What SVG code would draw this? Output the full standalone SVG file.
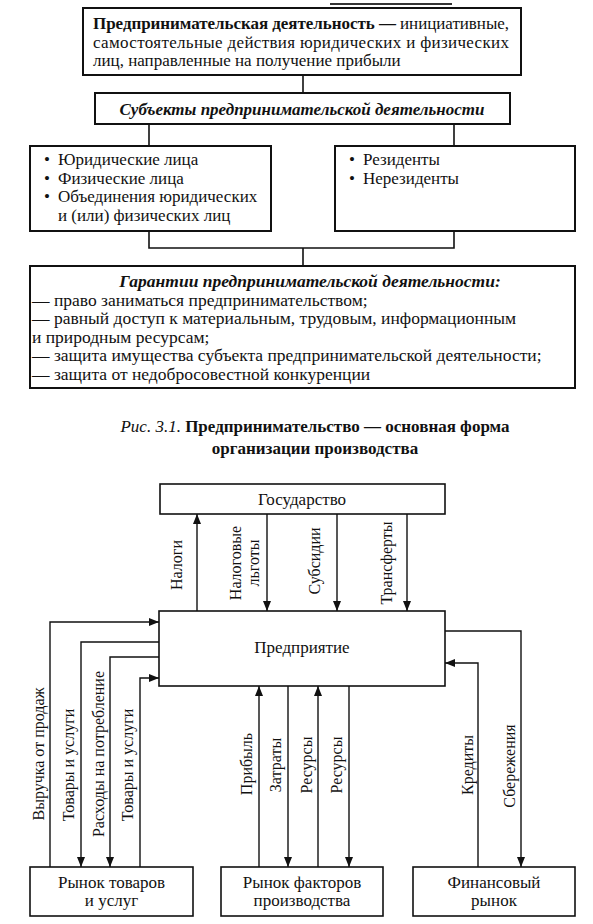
<svg xmlns="http://www.w3.org/2000/svg" width="593" height="924" viewBox="0 0 593 924" font-family="Liberation Serif">
<style>
  .t18 { font-size: 17.5px; fill: #111; }
  .t17 { font-size: 17px; fill: #111; }
  .t16 { font-size: 16px; fill: #111; }
  .b { font-weight: bold; }
  .bi { font-weight: bold; font-style: italic; }
  .i { font-style: italic; }
  .mid { text-anchor: middle; }
  .box { fill: #fff; stroke: #111; stroke-width: 2; }
  .box2 { fill: #fff; stroke: #111; stroke-width: 1.6; }
  .ln { fill: none; stroke: #111; stroke-width: 1.6; }
  .arr { fill: none; stroke: #111; stroke-width: 1.4; marker-end: url(#ah); }
</style>
<defs>
  <marker id="ah" markerUnits="userSpaceOnUse" markerWidth="10" markerHeight="8" refX="10" refY="4" orient="auto">
    <path d="M0,0 L10,4 L0,8 z" fill="#111"/>
  </marker>
</defs>
<rect width="593" height="924" fill="#fff"/>
<line x1="330" y1="4" x2="452" y2="4" stroke="#333" stroke-width="2"/>

<g id="connectors">
  <path class="ln" d="M303,75 V93"/>
  <path class="ln" d="M149,124 V146 M454,124 V146"/>
  <path class="ln" d="M149,231 V248 H454 V231 M303,248 V266"/>
  <path class="arr" d="M197,611 V514"/>
  <path class="arr" d="M267,514 V611"/>
  <path class="arr" d="M337,514 V611"/>
  <path class="arr" d="M407,514 V611"/>
  <path class="arr" d="M50,867 V622 H159"/>
  <path class="arr" d="M159,642 H81 V867"/>
  <path class="arr" d="M159,657 H110 V867"/>
  <path class="arr" d="M140,867 V678 H159"/>
  <path class="arr" d="M259,867 V686"/>
  <path class="arr" d="M288,686 V867"/>
  <path class="arr" d="M318,867 V686"/>
  <path class="arr" d="M349,686 V867"/>
  <path class="arr" d="M445,631 H521 V867"/>
  <path class="arr" d="M478,867 V663 H445"/>
</g>

<g id="definition">
  <rect class="box" x="83" y="8" width="438" height="67"/>
  <text font-family="Liberation Serif" class="t17" x="93" y="29" textLength="416" lengthAdjust="spacing"><tspan class="b">Предпринимательская деятельность —</tspan> инициативные,</text>
  <text font-family="Liberation Serif" class="t17" x="93" y="48" textLength="416" lengthAdjust="spacing">самостоятельные действия юридических и физических</text>
  <text font-family="Liberation Serif" class="t17" x="93" y="66">лиц, направленные на получение прибыли</text>
</g>

<g id="subjects">
  <rect class="box" x="95" y="93" width="415" height="31"/>
  <text font-family="Liberation Serif" class="t17 bi mid" x="302" y="115" font-size="17.5">Субъекты предпринимательской деятельности</text>
</g>

<g id="legal">
  <rect class="box" x="30" y="146" width="241" height="85"/>
  <text font-family="Liberation Serif" class="t17" x="44" y="165">•</text>
  <text font-family="Liberation Serif" class="t17" x="58" y="165">Юридические лица</text>
  <text font-family="Liberation Serif" class="t17" x="44" y="183.5">•</text>
  <text font-family="Liberation Serif" class="t17" x="58" y="183.5">Физические лица</text>
  <text font-family="Liberation Serif" class="t17" x="44" y="202">•</text>
  <text font-family="Liberation Serif" class="t17" x="58" y="202">Объединения юридических</text>
  <text font-family="Liberation Serif" class="t17" x="58" y="220.5">и (или) физических лиц</text>
</g>

<g id="residents">
  <rect class="box" x="335" y="146" width="240" height="85"/>
  <text font-family="Liberation Serif" class="t17" x="349" y="165">•</text>
  <text font-family="Liberation Serif" class="t17" x="363" y="165">Резиденты</text>
  <text font-family="Liberation Serif" class="t17" x="349" y="183.5">•</text>
  <text font-family="Liberation Serif" class="t17" x="363" y="183.5">Нерезиденты</text>
</g>

<g id="guarantees">
  <rect class="box" x="30" y="266" width="545" height="122"/>
  <text font-family="Liberation Serif" class="t18 bi mid" x="310" y="287">Гарантии предпринимательской деятельности:</text>
  <text font-family="Liberation Serif" class="t18" x="32" y="305.5">— право заниматься предпринимательством;</text>
  <text font-family="Liberation Serif" class="t18" x="32" y="324">— равный доступ к материальным, трудовым, информационным</text>
  <text font-family="Liberation Serif" class="t18" x="32" y="342.5">и природным ресурсам;</text>
  <text font-family="Liberation Serif" class="t18" x="32" y="361">— защита имущества субъекта предпринимательской деятельности;</text>
  <text font-family="Liberation Serif" class="t18" x="32" y="379.5">— защита от недобросовестной конкуренции</text>
</g>

<g id="caption">
  <text font-family="Liberation Serif" class="t17 mid" x="315" y="432"><tspan class="i">Рис. 3.1.</tspan> <tspan class="b">Предпринимательство — основная форма</tspan></text>
  <text font-family="Liberation Serif" class="t17 b mid" x="315" y="454">организации производства</text>
</g>

<g id="state">
  <rect class="box2" x="160" y="484" width="285" height="30"/>
  <text font-family="Liberation Serif" class="t17 mid" x="302" y="505">Государство</text>
</g>

<g id="enterprise">
  <rect class="box2" x="159" y="611" width="286" height="75"/>
  <text font-family="Liberation Serif" class="t17 mid" x="302" y="653">Предприятие</text>
</g>

<g id="goods-market">
  <rect class="box2" x="30" y="867" width="163" height="49"/>
  <text font-family="Liberation Serif" class="t17 mid" x="111.5" y="888">Рынок товаров</text>
  <text font-family="Liberation Serif" class="t17 mid" x="111.5" y="906">и услуг</text>
</g>

<g id="factor-market">
  <rect class="box2" x="221" y="867" width="162" height="49"/>
  <text font-family="Liberation Serif" class="t17 mid" x="302" y="888">Рынок факторов</text>
  <text font-family="Liberation Serif" class="t17 mid" x="302" y="906">производства</text>
</g>

<g id="financial-market">
  <rect class="box2" x="413" y="867" width="162" height="49"/>
  <text font-family="Liberation Serif" class="t17 mid" x="494" y="888">Финансовый</text>
  <text font-family="Liberation Serif" class="t17 mid" x="494" y="906">рынок</text>
</g>

<g id="labels">
  <text font-family="Liberation Serif" class="t16 mid" transform="translate(182,565) rotate(-90)">Налоги</text>
  <text font-family="Liberation Serif" class="t16 mid" transform="translate(241,563) rotate(-90)">Налоговые</text>
  <text font-family="Liberation Serif" class="t16 mid" transform="translate(259,563) rotate(-90)">льготы</text>
  <text font-family="Liberation Serif" class="t16 mid" transform="translate(320,561) rotate(-90)">Субсидии</text>
  <text font-family="Liberation Serif" class="t16 mid" transform="translate(392,563) rotate(-90)">Трансферты</text>
  <text font-family="Liberation Serif" class="t16 mid" transform="translate(44,754) rotate(-90)">Выручка от продаж</text>
  <text font-family="Liberation Serif" class="t16 mid" transform="translate(74,765) rotate(-90)">Товары и услуги</text>
  <text font-family="Liberation Serif" class="t16 mid" transform="translate(104,754) rotate(-90)">Расходы на потребление</text>
  <text font-family="Liberation Serif" class="t16 mid" transform="translate(133,765) rotate(-90)">Товары и услуги</text>
  <text font-family="Liberation Serif" class="t16 mid" transform="translate(252,764) rotate(-90)">Прибыль</text>
  <text font-family="Liberation Serif" class="t16 mid" transform="translate(281,765) rotate(-90)">Затраты</text>
  <text font-family="Liberation Serif" class="t16 mid" transform="translate(312,765) rotate(-90)">Ресурсы</text>
  <text font-family="Liberation Serif" class="t16 mid" transform="translate(342,765) rotate(-90)">Ресурсы</text>
  <text font-family="Liberation Serif" class="t16 mid" transform="translate(473,765) rotate(-90)">Кредиты</text>
  <text font-family="Liberation Serif" class="t16 mid" transform="translate(515,766) rotate(-90)">Сбережения</text>
</g>
</svg>
